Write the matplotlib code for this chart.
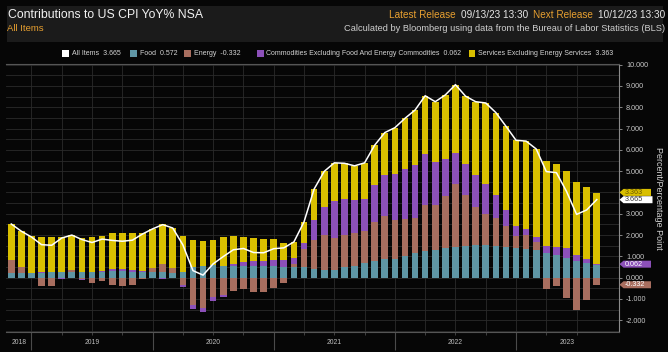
import matplotlib
matplotlib.use("Agg")
import matplotlib.pyplot as plt
import matplotlib.transforms as mtransforms
from matplotlib.patches import Rectangle, Polygon
from matplotlib.ticker import FormatStrFormatter, FixedLocator
import numpy as np
import pandas as pd

# contribuições mensais (pontos percentuais), out/2018 .. ago/2023
fechas = pd.date_range("2018-10-31", periods=59, freq="ME")

all_items = [2.52, 2.18, 1.91,
             1.55, 1.52, 1.86, 2.00, 1.79, 1.65, 1.81, 1.75, 1.71, 1.76, 2.05, 2.29,
             2.49, 2.33, 1.54, 0.33, 0.12, 0.65, 0.99, 1.31, 1.37, 1.18, 1.17, 1.36,
             1.40, 1.68, 2.62, 4.16, 4.99, 5.39, 5.37, 5.25, 5.39, 6.22, 6.81, 7.04,
             7.48, 7.87, 8.54, 8.26, 8.58, 9.06, 8.52, 8.26, 8.20, 7.75, 7.11, 6.45,
             6.41, 6.04, 4.98, 4.93, 4.05, 2.97, 3.18, 3.665]

food = [0.20, 0.20, 0.22,
        0.22, 0.27, 0.28, 0.25, 0.27, 0.26, 0.25, 0.31, 0.30, 0.28, 0.27, 0.26,
        0.26, 0.24, 0.26, 0.48, 0.54, 0.60, 0.55, 0.55, 0.55, 0.55, 0.54, 0.55,
        0.52, 0.50, 0.48, 0.42, 0.36, 0.36, 0.48, 0.56, 0.67, 0.78, 0.86, 0.90,
        1.02, 1.14, 1.25, 1.28, 1.39, 1.44, 1.48, 1.52, 1.52, 1.48, 1.45, 1.41,
        1.36, 1.28, 1.17, 1.05, 0.94, 0.80, 0.67, 0.572]

energy = [0.63, 0.30, -0.03,
          -0.37, -0.38, -0.03, 0.13, -0.05, -0.27, -0.16, -0.34, -0.38, -0.33, -0.04, 0.21,
          0.39, 0.22, -0.35, -1.29, -1.40, -0.91, -0.81, -0.64, -0.55, -0.66, -0.65, -0.47,
          -0.23, 0.16, 0.85, 1.35, 1.64, 1.48, 1.50, 1.52, 1.53, 1.85, 2.02, 1.83,
          1.75, 1.64, 2.17, 2.11, 2.44, 2.94, 2.38, 1.78, 1.45, 1.33, 0.97, 0.54,
          0.62, 0.39, -0.52, -0.39, -0.97, -1.52, -1.06, -0.332]

core_goods = [0.02, 0.02, 0.02,
              0.06, 0.01, -0.01, -0.01, -0.04, 0.00, 0.05, 0.08, 0.09, 0.06, 0.02, 0.00,
              -0.05, -0.01, -0.08, -0.16, -0.20, -0.20, -0.09, 0.08, 0.20, 0.23, 0.23, 0.30,
              0.30, 0.26, 0.32, 0.94, 1.30, 1.75, 1.72, 1.58, 1.47, 1.70, 1.92, 2.16,
              2.31, 2.52, 2.39, 2.02, 1.76, 1.48, 1.48, 1.50, 1.41, 1.05, 0.78, 0.47,
              0.32, 0.24, 0.31, 0.40, 0.44, 0.28, 0.19, 0.062]

services = [1.67, 1.66, 1.70,
            1.64, 1.62, 1.62, 1.63, 1.61, 1.66, 1.67, 1.70, 1.70, 1.75, 1.80, 1.82,
            1.89, 1.88, 1.71, 1.30, 1.18, 1.16, 1.34, 1.32, 1.17, 1.06, 1.05, 0.98,
            0.81, 0.76, 0.97, 1.45, 1.69, 1.80, 1.67, 1.59, 1.72, 1.89, 2.01, 2.15,
            2.40, 2.57, 2.73, 2.85, 2.99, 3.20, 3.18, 3.46, 3.82, 3.89, 3.91, 4.03,
            4.11, 4.13, 4.02, 3.87, 3.64, 3.41, 3.38, 3.363]

nomes = ["Food", "Energy", "Commodities Excluding Food And Energy Commodities",
         "Services Excluding Energy Services"]
cores = ["#5f96a5", "#a86e5f", "#8c50b9", "#d9bf00"]
cor_texto_tag = ["white", "white", "white", "#6a5800"]

W, H = 668, 352
FUNDO = "#060606"
LARANJA = "#e8a030"


def fx(px):
    return px / W


def fy(py):
    return 1 - py / H


plt.rcParams["font.family"] = ["Liberation Sans", "DejaVu Sans"]
plt.rcParams["axes.unicode_minus"] = False

fig = plt.figure(figsize=(W / 100, H / 100), dpi=100, facecolor=FUNDO)
fig.canvas.draw()
renderer = fig.canvas.get_renderer()


def largura(t):
    return t.get_window_extent(renderer).width


# faixa do cabeçalho
fig.patches.append(Rectangle((fx(7), fy(42)), fx(656), 36 / H, transform=fig.transFigure,
                             facecolor="#1b1b1b", edgecolor="none", zorder=0))
fig.text(fx(8), fy(15.5), "Contributions to US CPI YoY% NSA", color="#f2f2f2",
         fontsize=8.8, ha="left", va="center")
fig.text(fx(7), fy(28.5), "All Items", color=LARANJA, fontsize=6.8, ha="left", va="center")

# linha de lançamentos, montada da direita para a esquerda
pedacos = [("10/12/23 13:30", "#e6e6e6"), ("Next Release", LARANJA),
           ("09/13/23 13:30", "#e6e6e6"), ("Latest Release", LARANJA)]
x_dir = 665
for texto, cor in pedacos:
    t = fig.text(fx(x_dir), fy(15.5), texto, color=cor, fontsize=7.2, ha="right", va="center")
    x_dir -= largura(t) + 5
fig.text(fx(665), fy(28.5),
         "Calculated by Bloomberg using data from the Bureau of Labor Statistics (BLS)",
         color="#cfcfcf", fontsize=6.7, ha="right", va="center")

# legenda
itens_legenda = [("white", f"All Items  {all_items[-1]:.3f}", 62),
                 (cores[0], f"Food  {food[-1]:.3f}", 130),
                 (cores[1], f"Energy  {energy[-1]:.3f}", 184),
                 (cores[2], f"{nomes[2]}  {core_goods[-1]:.3f}", 257),
                 (cores[3], f"{nomes[3]}  {services[-1]:.3f}", 461)]
x_fim = 0
for cor, texto, x0 in itens_legenda:
    x0 = max(x0, x_fim + 7)
    fig.patches.append(Rectangle((fx(x0), fy(56.5)), 6.5 / W, 7 / H, transform=fig.transFigure,
                                 facecolor=cor, edgecolor="none"))
    t = fig.text(fx(x0 + 9.5), fy(53.3), texto, color="#d4d4d4", fontsize=5.0,
                 ha="left", va="center")
    x_fim = x0 + 9.5 + largura(t)

ax = fig.add_axes([fx(6), fy(332), (619 - 6) / W, (332 - 64) / H], facecolor=FUNDO)

x = np.arange(len(fechas))
pos = np.zeros(len(x))
neg = np.zeros(len(x))
fim_ultimo = []
for vals, cor in zip([food, energy, core_goods, services], cores):
    v = np.array(vals)
    base = np.where(v >= 0, pos, neg)
    ax.bar(x, v, bottom=base, width=0.66, color=cor, linewidth=0, zorder=2)
    fim_ultimo.append(base[-1] + v[-1])
    pos += np.where(v >= 0, v, 0)
    neg += np.where(v < 0, v, 0)

ax.plot(x, all_items, color="white", lw=1.1, zorder=3)

ax.set_xlim(-0.52, 60.2)
ax.set_ylim(-2.55, 10.03)

# eixo y à direita
ax.yaxis.tick_right()
ax.set_yticks(np.arange(-2, 11, 1))
ax.yaxis.set_minor_locator(FixedLocator(np.arange(-2.5, 10.01, 0.5)))
ax.yaxis.set_major_formatter(FormatStrFormatter("%.3f"))
ax.tick_params(axis="y", which="major", direction="out", length=2.5, width=0.6,
               color="#9a9a9a", labelcolor="#c8c8c8", labelsize=5.2, pad=2.5)
ax.tick_params(axis="y", which="minor", length=0)

# eixo x: separadores de ano e marcas trimestrais
fim_ano = x[fechas.month == 12]
fim_trim = x[np.isin(fechas.month, [3, 6, 9])]
ax.set_xticks(fim_ano)
ax.xaxis.set_minor_locator(FixedLocator(fim_trim))
ax.tick_params(axis="x", which="major", length=13, width=0.8, color="#4a4a4a", labelbottom=False)
ax.tick_params(axis="x", which="minor", length=2.5, width=0.6, color="#4a4a4a")

ax.grid(which="both", color="#2b2b2b", lw=0.6, zorder=0)
ax.set_axisbelow(True)

ax.spines["left"].set_visible(False)
for lado in ["top", "bottom"]:
    ax.spines[lado].set_color("#555555")
    ax.spines[lado].set_linewidth(0.8)
ax.spines["right"].set_color("#8a8a8a")
ax.spines["right"].set_linewidth(0.8)

# rótulos dos anos centrados em cada segmento
limites = [ax.get_xlim()[0]] + list(fim_ano) + [ax.get_xlim()[1]]
anos = [fechas[0].year] + [fechas[i].year + 1 for i in fim_ano]
trans_x = mtransforms.blended_transform_factory(ax.transData, ax.transAxes)
for a, b, ano in zip(limites[:-1], limites[1:], anos):
    ax.text((a + b) / 2, -0.04, str(ano), transform=trans_x, ha="center", va="center",
            color="#bdbdbd", fontsize=4.9, clip_on=False)

fig.text(fx(659), fy(198), "Percent/Percentage Point", rotation=270, ha="center", va="center",
         color="#d0d0d0", fontsize=6.5)

# etiquetas do último valor (afastadas quando se encostam)
px_por_unidade = (332 - 64) / (ax.get_ylim()[1] - ax.get_ylim()[0])
meia = 3.5 / px_por_unidade
trans_tag = mtransforms.blended_transform_factory(fig.transFigure, ax.transData)
tags = [[fim_ultimo[3], cores[3], f"{services[-1]:.3f}", cor_texto_tag[3], 651],
        [all_items[-1], "white", f"{all_items[-1]:.3f}", "#333333", 652.5],
        [fim_ultimo[2], cores[2], f"{core_goods[-1]:.3f}", cor_texto_tag[2], 651],
        [fim_ultimo[1], cores[1], f"{energy[-1]:.3f}", cor_texto_tag[1], 651]]
tags.sort(key=lambda t: -t[0])
for i in range(1, len(tags)):
    falta = 2 * meia + 0.3 / px_por_unidade - (tags[i - 1][0] - tags[i][0])
    if falta > 0:
        tags[i - 1][0] += falta / 2
        tags[i][0] -= falta / 2
for yv, cor, texto, cor_txt, xdir in tags:
    verts = [(fx(619.5), yv), (fx(623.5), yv + meia), (fx(xdir), yv + meia),
             (fx(xdir), yv - meia), (fx(623.5), yv - meia)]
    ax.add_patch(Polygon(verts, closed=True, transform=trans_tag, facecolor=cor,
                         edgecolor="none", clip_on=False, zorder=5))
    ax.text(fx(625), yv, texto, transform=trans_tag, ha="left", va="center",
            color=cor_txt, fontsize=5.2, clip_on=False, zorder=6)

plt.savefig("out.png", dpi=100, facecolor=FUNDO)
plt.close(fig)
